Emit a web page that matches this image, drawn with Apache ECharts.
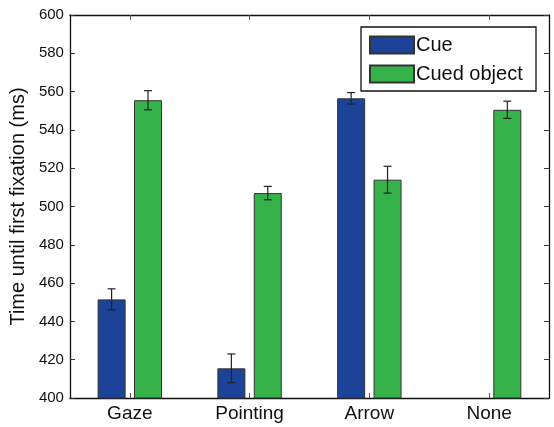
<!DOCTYPE html>
<html>
<head>
<meta charset="utf-8">
<script src="https://cdn.jsdelivr.net/npm/echarts@6/dist/echarts.min.js"></script>
<style>
  html, body { margin: 0; padding: 0; background: #fff; }
  #chart { width: 554px; height: 427px; }
</style>
</head>
<body>
<div id="chart"></div>
<script>
// Conditions and measured means / standard errors (ms)
const categories = ['Gaze', 'Pointing', 'Arrow', 'None'];
const cueMeans = [451.5, 415.5, 556.5, null];
const cueErrors = [5.5, 7.5, 3, null];
const cuedObjectMeans = [555.5, 507, 514, 550.5];
const cuedObjectErrors = [5, 3.5, 7, 4.5];
const yTicks = [400, 420, 440, 460, 480, 500, 520, 540, 560, 580, 600];

const BAR_W = 28;
const BAR_GAP = 0.3;
const FONT = 'Liberation Sans, Arial, Helvetica, sans-serif';
const barOffset = (BAR_W + BAR_W * BAR_GAP) / 2;

function errorSeries(means, errors, side) {
  const data = means.map((m, i) => m == null ? null : [i, m - errors[i], m + errors[i]]).filter(d => d);
  return {
    type: 'custom',
    z: 5,
    silent: true,
    data: data,
    renderItem: function (params, api) {
      const i = api.value(0);
      const lo = api.coord([i, api.value(1)]);
      const hi = api.coord([i, api.value(2)]);
      const x = lo[0] + side * barOffset;
      const cap = 4;
      const style = { stroke: '#222', lineWidth: 1.2 };
      return {
        type: 'group',
        children: [
          { type: 'line', shape: { x1: x, y1: lo[1], x2: x, y2: hi[1] }, style: style },
          { type: 'line', shape: { x1: x - cap, y1: lo[1], x2: x + cap, y2: lo[1] }, style: style },
          { type: 'line', shape: { x1: x - cap, y1: hi[1], x2: x + cap, y2: hi[1] }, style: style }
        ]
      };
    }
  };
}

const chart = echarts.init(document.getElementById('chart'));
const yAxisBase = {
  type: 'value',
  min: yTicks[0],
  max: yTicks[yTicks.length - 1],
  interval: yTicks[1] - yTicks[0],
  splitLine: { show: false },
  axisLine: { show: true, lineStyle: { color: '#111', width: 1.3 } },
  axisTick: { show: true, inside: true, length: 5, lineStyle: { color: '#333' } }
};
chart.setOption({
  animation: false,
  grid: { left: 67, right: 5, top: 15, bottom: 29 },
  legend: {
    right: 18,
    top: 27,
    orient: 'vertical',
    padding: [8, 4, 7, 8],
    itemWidth: 44,
    itemHeight: 17,
    itemGap: 9,
    borderColor: '#111',
    borderWidth: 1.3,
    borderRadius: 0,
    icon: 'rect',
    textStyle: { fontFamily: FONT, fontSize: 20, color: '#111', padding: [0, 0, 0, -3], width: 116, lineHeight: 20 },
    data: ['Cue', 'Cued object']
  },
  xAxis: [
    {
      type: 'category',
      data: categories,
      axisLine: { lineStyle: { color: '#111', width: 1.3 } },
      axisTick: { show: true, inside: true, alignWithLabel: true, length: 5, lineStyle: { color: '#555' } },
      axisLabel: { fontFamily: FONT, fontSize: 19, color: '#111', margin: 6 }
    },
    {
      type: 'category',
      position: 'top',
      data: categories,
      axisLine: { lineStyle: { color: '#111', width: 1.3 } },
      axisTick: { show: true, inside: true, alignWithLabel: true, length: 5, lineStyle: { color: '#555' } },
      axisLabel: { show: false }
    }
  ],
  yAxis: [
    Object.assign({}, yAxisBase, {
      name: 'Time until first fixation (ms)',
      nameLocation: 'middle',
      nameGap: 36,
      nameTextStyle: { fontFamily: FONT, fontSize: 20, color: '#111' },
      axisLabel: { fontFamily: FONT, fontSize: 15, color: '#111', margin: 6 }
    }),
    Object.assign({}, yAxisBase, { position: 'right', axisLabel: { show: false } })
  ],
  series: [
    {
      name: 'Cue',
      type: 'bar',
      data: cueMeans,
      barWidth: BAR_W,
      barGap: (BAR_GAP * 100) + '%',
      itemStyle: { color: '#1d4399', borderColor: '#333', borderWidth: 1 }
    },
    {
      name: 'Cued object',
      type: 'bar',
      data: cuedObjectMeans,
      barWidth: BAR_W,
      barGap: (BAR_GAP * 100) + '%',
      itemStyle: { color: '#35b34a', borderColor: '#333', borderWidth: 1 }
    },
    errorSeries(cueMeans, cueErrors, -1),
    errorSeries(cuedObjectMeans, cuedObjectErrors, 1)
  ]
});
</script>
</body>
</html>
